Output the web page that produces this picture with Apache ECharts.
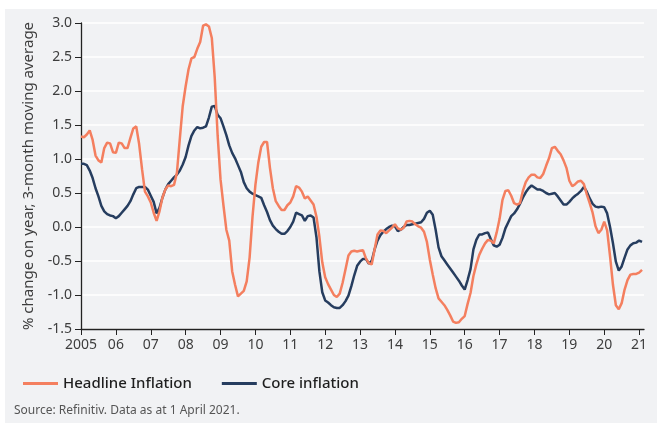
<!DOCTYPE html>
<html>
<head>
<meta charset="utf-8">
<script src="https://cdn.jsdelivr.net/npm/echarts@6/dist/echarts.min.js"></script>
<style>
  html, body { margin: 0; padding: 0; background: #ffffff; }
  #chart { position: absolute; left: 5px; top: 9px; width: 652px; height: 414px; background: #f1f2f4; }
</style>
</head>
<body>
<div id="chart"></div>
<script>
// monthly values, Jan 2005 to Feb 2021 (one row per year)
var headline = [
  1.33, 1.32, 1.36, 1.42, 1.28, 1.05, 0.98, 0.95, 1.16, 1.24, 1.23, 1.10,
  1.09, 1.24, 1.23, 1.16, 1.16, 1.31, 1.45, 1.48, 1.22, 0.85, 0.52, 0.45,
  0.36, 0.21, 0.09, 0.23, 0.43, 0.55, 0.61, 0.60, 0.62, 0.80, 1.30, 1.78,
  2.07, 2.32, 2.48, 2.50, 2.62, 2.72, 2.96, 2.98, 2.95, 2.78, 2.20, 1.35,
  0.70, 0.32, -0.04, -0.20, -0.65, -0.85, -1.02, -0.98, -0.94, -0.80, -0.45, 0.15,
  0.62, 0.95, 1.18, 1.25, 1.25, 0.87, 0.57, 0.38, 0.31, 0.25, 0.25, 0.32,
  0.36, 0.45, 0.60, 0.58, 0.52, 0.42, 0.45, 0.39, 0.33, 0.15, -0.14, -0.52,
  -0.74, -0.84, -0.92, -1.00, -1.03, -0.98, -0.82, -0.62, -0.42, -0.36, -0.35, -0.36,
  -0.35, -0.34, -0.46, -0.53, -0.55, -0.33, -0.11, -0.05, -0.06, -0.09, -0.05, -0.01,
  0.04, -0.02, -0.04, -0.01, 0.08, 0.09, 0.08, 0.04, 0.01, -0.01, -0.07, -0.22,
  -0.48, -0.70, -0.90, -1.05, -1.10, -1.15, -1.22, -1.30, -1.39, -1.41, -1.40, -1.35,
  -1.31, -1.13, -0.97, -0.72, -0.55, -0.41, -0.32, -0.24, -0.19, -0.20, -0.24, -0.08,
  0.12, 0.40, 0.53, 0.54, 0.46, 0.35, 0.33, 0.35, 0.53, 0.66, 0.73, 0.77,
  0.77, 0.73, 0.72, 0.78, 0.90, 1.01, 1.16, 1.18, 1.12, 1.07, 0.98, 0.87,
  0.68, 0.60, 0.63, 0.67, 0.68, 0.63, 0.48, 0.35, 0.21, 0.01, -0.09, -0.04,
  0.08, -0.05, -0.43, -0.85, -1.15, -1.21, -1.12, -0.92, -0.78, -0.70, -0.69, -0.69,
  -0.67, -0.63
];
var core = [
  0.93, 0.93, 0.91, 0.83, 0.72, 0.57, 0.45, 0.31, 0.23, 0.19, 0.17, 0.16,
  0.13, 0.16, 0.21, 0.26, 0.31, 0.38, 0.48, 0.57, 0.59, 0.59, 0.59, 0.55,
  0.46, 0.37, 0.20, 0.28, 0.43, 0.55, 0.63, 0.68, 0.73, 0.77, 0.83, 0.92,
  1.03, 1.20, 1.34, 1.42, 1.47, 1.45, 1.46, 1.48, 1.61, 1.77, 1.78, 1.65,
  1.60, 1.48, 1.35, 1.20, 1.09, 1.01, 0.91, 0.81, 0.66, 0.57, 0.52, 0.49,
  0.47, 0.45, 0.43, 0.32, 0.22, 0.10, 0.02, -0.03, -0.07, -0.10, -0.10, -0.06,
  0.00, 0.08, 0.21, 0.19, 0.17, 0.09, 0.16, 0.17, 0.14, -0.15, -0.65, -0.96,
  -1.08, -1.11, -1.15, -1.18, -1.19, -1.19, -1.15, -1.09, -1.01, -0.87, -0.71, -0.57,
  -0.51, -0.47, -0.47, -0.54, -0.50, -0.33, -0.20, -0.12, -0.07, -0.03, 0.00, 0.02,
  0.01, -0.06, -0.04, 0.00, 0.03, 0.03, 0.04, 0.05, 0.06, 0.07, 0.12, 0.21,
  0.24, 0.18, -0.04, -0.30, -0.43, -0.49, -0.55, -0.61, -0.67, -0.73, -0.79, -0.86,
  -0.92, -0.78, -0.62, -0.33, -0.19, -0.11, -0.11, -0.09, -0.08, -0.18, -0.27, -0.29,
  -0.26, -0.16, -0.02, 0.07, 0.16, 0.20, 0.26, 0.34, 0.43, 0.51, 0.57, 0.61,
  0.58, 0.55, 0.55, 0.53, 0.50, 0.48, 0.49, 0.50, 0.45, 0.39, 0.33, 0.33,
  0.37, 0.42, 0.46, 0.49, 0.53, 0.59, 0.52, 0.42, 0.34, 0.30, 0.29, 0.30,
  0.29, 0.20, 0.00, -0.24, -0.51, -0.64, -0.58, -0.45, -0.33, -0.27, -0.24, -0.23,
  -0.20, -0.22
];
var startYear = 2005;
var years = [2005, 2006, 2007, 2008, 2009, 2010, 2011, 2012, 2013, 2014, 2015, 2016, 2017, 2018, 2019, 2020, 2021];

var font = '"Noto Sans", "Open Sans", sans-serif';
var textCol = '#3d3d3d';

// pair each monthly value with its position on the year axis
function toPoints(arr) {
  var out = [];
  for (var i = 0; i < arr.length; i++) {
    out.push([startYear + i / 12, arr[i]]);
  }
  return out;
}

var chart = echarts.init(document.getElementById('chart'));
var option = {
  animation: false,
  backgroundColor: 'transparent',
  textStyle: { fontFamily: font },
  grid: { left: 76, right: 13, top: 14, bottom: 94 },
  legend: {
    left: 13,
    top: 362,
    icon: 'rect',
    itemWidth: 35,
    itemHeight: 3,
    itemGap: 30,
    textStyle: { fontFamily: font, fontSize: 15, fontWeight: 500, color: '#1e1e1e' },
    data: ['Headline Inflation', 'Core inflation']
  },
  graphic: [{
    type: 'text',
    left: 9,
    top: 396,
    style: { text: 'Source: Refinitiv. Data as at 1 April 2021.', font: '12px ' + font, fill: '#555' }
  }],
  xAxis: {
    type: 'value',
    min: 2005,
    max: 2021.14,
    interval: 1,
    splitLine: { show: false },
    axisLine: { onZero: false, lineStyle: { color: '#222', width: 1.3 } },
    axisTick: { length: 6, lineStyle: { color: '#222' }, customValues: years },
    axisLabel: {
      customValues: years,
      margin: 9,
      fontSize: 14,
      color: textCol,
      formatter: function (v) {
        var y = Math.round(v);
        return y === 2005 ? '2005' : String(y).slice(2);
      }
    }
  },
  yAxis: {
    type: 'value',
    min: -1.5,
    max: 3.0,
    interval: 0.5,
    name: '% change on year, 3-month moving average',
    nameLocation: 'middle',
    nameGap: 45,
    nameTextStyle: { fontSize: 15, color: textCol, fontFamily: font },
    axisLine: { show: true, lineStyle: { color: '#222', width: 1.3 } },
    axisTick: { show: true, length: 6, lineStyle: { color: '#222' } },
    splitLine: { lineStyle: { color: '#ffffff', width: 1.5 } },
    axisLabel: {
      margin: 9,
      fontSize: 14,
      color: textCol,
      formatter: function (v) { return v.toFixed(1); }
    }
  },
  series: [
    {
      name: 'Headline Inflation',
      type: 'line',
      data: toPoints(headline),
      showSymbol: false,
      symbol: 'none',
      z: 3,
      lineStyle: { color: '#f47f5f', width: 2.5 },
      itemStyle: { color: '#f47f5f' }
    },
    {
      name: 'Core inflation',
      type: 'line',
      data: toPoints(core),
      showSymbol: false,
      symbol: 'none',
      z: 2,
      lineStyle: { color: '#263d5f', width: 2.5 },
      itemStyle: { color: '#263d5f' }
    }
  ]
};
chart.setOption(option);
</script>
</body>
</html>
